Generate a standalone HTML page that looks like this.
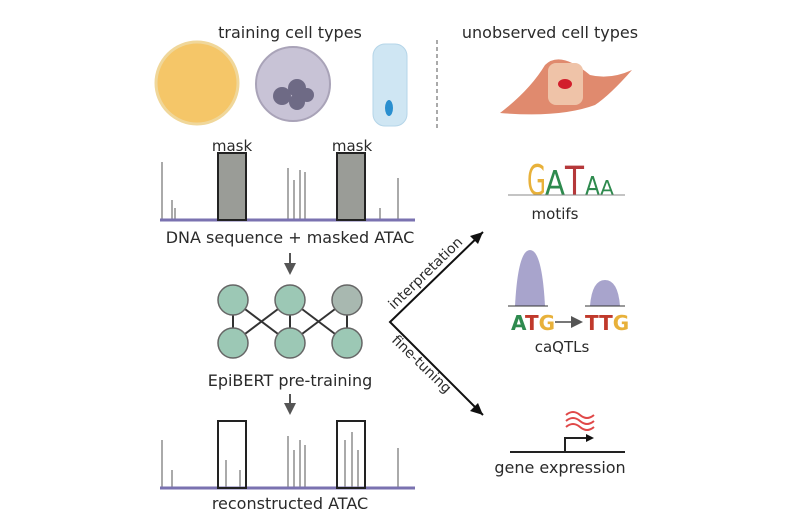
<!DOCTYPE html>
<html><head><meta charset="utf-8"><style>
html,body{margin:0;padding:0;background:#fff;}
svg{display:block;}
text{font-family:"DejaVu Sans","Liberation Sans",sans-serif;}
</style></head><body>
<svg width="800" height="530" viewBox="0 0 800 530" xmlns="http://www.w3.org/2000/svg">
<defs>
<marker id="ah" markerWidth="8" markerHeight="8" refX="6" refY="4" orient="auto" markerUnits="userSpaceOnUse"><path d="M0,0 L8,4 L0,8 z" fill="#111"/></marker>
<marker id="ag" markerWidth="12" markerHeight="12" refX="9" refY="6" orient="auto" markerUnits="userSpaceOnUse"><path d="M0,0 L12,6 L0,12 z" fill="#555"/></marker>
</defs>
<g fill="#2a2a2a">
<text x="290" y="38" font-size="16" text-anchor="middle">training cell types</text>
<text x="550" y="38" font-size="16" text-anchor="middle">unobserved cell types</text>
</g>
<line x1="437" y1="40" x2="437" y2="130" stroke="#555" stroke-dasharray="4,3"/>
<!-- cells -->
<circle cx="197" cy="83" r="41" fill="#f5c668" stroke="#f0d79a" stroke-width="3"/>
<circle cx="293" cy="84" r="37" fill="#c8c3d6" stroke="#a9a3b8" stroke-width="2"/>
<circle cx="282" cy="96" r="9" fill="#6e6a85"/><circle cx="297" cy="88" r="9" fill="#6e6a85"/><circle cx="297" cy="102" r="8" fill="#6e6a85"/><circle cx="307" cy="95" r="7" fill="#6e6a85"/>
<rect x="373" y="44" width="34" height="82" rx="12" fill="#cfe6f3" stroke="#b5d5e8"/>
<ellipse cx="389" cy="108" rx="4" ry="8" fill="#2a8fcf"/>
<path d="M500,113 Q530,90 545,65 Q560,50 590,75 Q610,80 632,70 Q610,95 595,105 Q560,118 500,113 z" fill="#e08a6e"/>
<rect x="548" y="63" width="35" height="42" rx="8" fill="#efc3a8"/>
<ellipse cx="565" cy="84" rx="7" ry="5" fill="#d21e2c"/>
<!-- masked ATAC -->
<g fill="#2a2a2a">
<text x="232" y="151" font-size="15" text-anchor="middle">mask</text>
<text x="352" y="151" font-size="15" text-anchor="middle">mask</text>
</g>
<g stroke="#555" stroke-width="1">
<line x1="162" y1="220" x2="162" y2="162"/><line x1="172" y1="220" x2="172" y2="200"/><line x1="175" y1="220" x2="175" y2="208"/>
<line x1="288" y1="220" x2="288" y2="168"/><line x1="294" y1="220" x2="294" y2="180"/><line x1="300" y1="220" x2="300" y2="170"/><line x1="305" y1="220" x2="305" y2="172"/>
<line x1="398" y1="220" x2="398" y2="178"/><line x1="380" y1="220" x2="380" y2="208"/>
</g>
<line x1="160" y1="220" x2="415" y2="220" stroke="#7a72b0" stroke-width="3"/>
<rect x="218" y="153" width="28" height="67" fill="#9a9c97" stroke="#222" stroke-width="2"/>
<rect x="337" y="153" width="28" height="67" fill="#9a9c97" stroke="#222" stroke-width="2"/>
<text x="290" y="243" font-size="16" text-anchor="middle" fill="#2a2a2a">DNA sequence + masked ATAC</text>
<line x1="290" y1="253" x2="290" y2="272" stroke="#555" stroke-width="2" marker-end="url(#ag)"/>
<!-- network -->
<g stroke="#333" stroke-width="2">
<line x1="233" y1="300" x2="233" y2="343"/><line x1="290" y1="300" x2="290" y2="343"/><line x1="347" y1="300" x2="347" y2="343"/>
<line x1="233" y1="300" x2="290" y2="343"/><line x1="290" y1="300" x2="233" y2="343"/>
<line x1="290" y1="300" x2="347" y2="343"/><line x1="347" y1="300" x2="290" y2="343"/>
</g>
<g fill="#9cc8b5" stroke="#666" stroke-width="1.5">
<circle cx="233" cy="300" r="15"/><circle cx="290" cy="300" r="15"/><circle cx="347" cy="300" r="15" fill="#a8b8b0"/>
<circle cx="233" cy="343" r="15"/><circle cx="290" cy="343" r="15"/><circle cx="347" cy="343" r="15"/>
</g>
<text x="290" y="386" font-size="16" text-anchor="middle" fill="#2a2a2a">EpiBERT pre-training</text>
<line x1="290" y1="394" x2="290" y2="412" stroke="#555" stroke-width="2" marker-end="url(#ag)"/>
<!-- reconstructed -->
<g stroke="#555" stroke-width="1">
<line x1="162" y1="488" x2="162" y2="440"/><line x1="172" y1="488" x2="172" y2="470"/>
<line x1="226" y1="488" x2="226" y2="460"/><line x1="240" y1="488" x2="240" y2="470"/>
<line x1="288" y1="488" x2="288" y2="436"/><line x1="294" y1="488" x2="294" y2="450"/><line x1="300" y1="488" x2="300" y2="440"/><line x1="305" y1="488" x2="305" y2="445"/>
<line x1="345" y1="488" x2="345" y2="440"/><line x1="352" y1="488" x2="352" y2="432"/><line x1="358" y1="488" x2="358" y2="450"/>
<line x1="398" y1="488" x2="398" y2="448"/>
</g>
<line x1="160" y1="488" x2="415" y2="488" stroke="#7a72b0" stroke-width="3"/>
<rect x="218" y="421" width="28" height="67" fill="none" stroke="#222" stroke-width="2"/>
<rect x="337" y="421" width="28" height="67" fill="none" stroke="#222" stroke-width="2"/>
<text x="290" y="509" font-size="16" text-anchor="middle" fill="#2a2a2a">reconstructed ATAC</text>
<!-- branches -->
<polyline points="483,232 390,322 483,415" fill="none" stroke="#111" stroke-width="2"/>
<path d="M483,232 L470,236 L478,244 z" fill="#111"/>
<path d="M483,415 L478,403 L470,411 z" fill="#111"/>
<text transform="translate(394,310) rotate(-44)" font-size="14" fill="#2a2a2a">interpretation</text>
<text transform="translate(391,341) rotate(44)" font-size="14" fill="#2a2a2a">fine-tuning</text>
<!-- motif -->
<text x="527" y="195" font-size="42" fill="#e8b13a" textLength="19" lengthAdjust="spacingAndGlyphs">G</text>
<text x="545" y="195" font-size="34" fill="#2e8a4e" textLength="20" lengthAdjust="spacingAndGlyphs">A</text>
<text x="565" y="195" font-size="40" fill="#b5383a" textLength="19" lengthAdjust="spacingAndGlyphs">T</text>
<text x="585" y="195" font-size="26" fill="#2e8a4e" textLength="15" lengthAdjust="spacingAndGlyphs">A</text>
<text x="600" y="195" font-size="20" fill="#2e8a4e" textLength="14" lengthAdjust="spacingAndGlyphs">A</text>
<line x1="508" y1="195" x2="625" y2="195" stroke="#888" stroke-width="1"/>
<text x="555" y="219" font-size="15" text-anchor="middle" fill="#2a2a2a">motifs</text>
<!-- caQTL -->
<path d="M515,306 Q518,250 530,250 Q542,250 545,306 z" fill="#a8a4cc"/>
<path d="M590,306 Q592,280 605,280 Q618,280 620,306 z" fill="#a8a4cc"/>
<line x1="508" y1="306" x2="548" y2="306" stroke="#333"/><line x1="585" y1="306" x2="625" y2="306" stroke="#333"/>
<text x="511" y="330" font-size="20" font-weight="bold" fill="#2e8a4e">A<tspan fill="#c0392b">T</tspan><tspan fill="#e8b13a">G</tspan></text>
<text x="585" y="330" font-size="20" font-weight="bold" fill="#c0392b">TT<tspan fill="#e8b13a">G</tspan></text>
<line x1="555" y1="322" x2="580" y2="322" stroke="#777" stroke-width="2" marker-end="url(#ag)"/>
<text x="562" y="352" font-size="15" text-anchor="middle" fill="#2a2a2a">caQTLs</text>
<!-- gene expression -->
<path d="M566,415 q7,-6 14,0 t14,0 M566,421 q7,-6 14,0 t14,0 M566,427 q7,-6 14,0 t14,0" fill="none" stroke="#e04848" stroke-width="2"/>
<line x1="510" y1="452" x2="625" y2="452" stroke="#222" stroke-width="2"/>
<polyline points="565,452 565,438 592,438" fill="none" stroke="#222" stroke-width="2" marker-end="url(#ah)"/>
<text x="560" y="473" font-size="16" text-anchor="middle" fill="#2a2a2a">gene expression</text>
</svg>
</body></html>
